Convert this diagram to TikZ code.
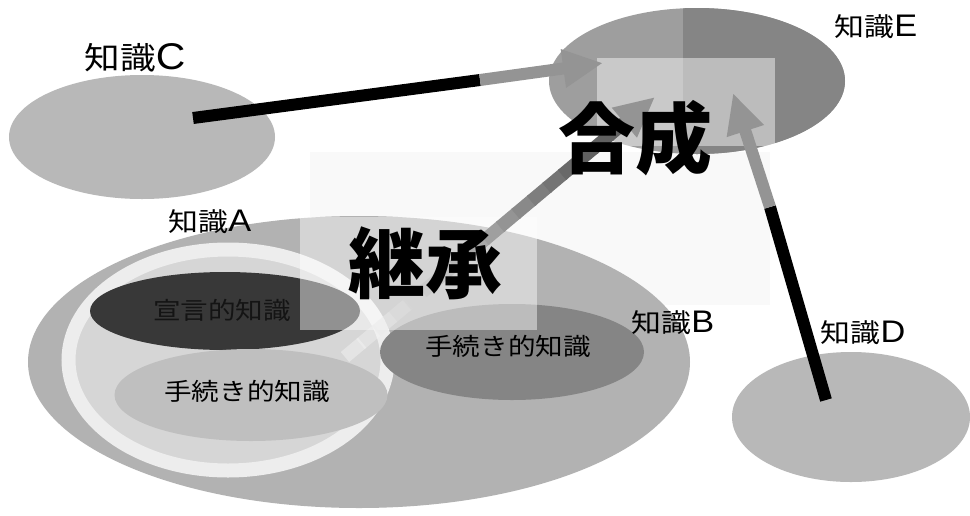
\documentclass[tikz,border=0pt]{standalone}
\usepackage{fontspec}
\newfontfamily\jp{Noto Sans CJK JP}[FakeStretch=1.15]
\newfontfamily\jpbig{Noto Sans CJK JP}
\newfontfamily\lat{Liberation Sans}[FakeStretch=1.1,Scale=1.2]
\usetikzlibrary{shapes.geometric,arrows.meta,calc}
\definecolor{g15}{gray}{0.08}
\definecolor{g25}{gray}{0.22}
\definecolor{g40}{gray}{0.40}
\definecolor{g50}{gray}{0.52}
\definecolor{g55}{gray}{0.58}
\definecolor{g62}{gray}{0.62}
\definecolor{g70}{gray}{0.70}
\definecolor{g72}{gray}{0.72}
\definecolor{g74}{gray}{0.75}
\definecolor{g84}{gray}{0.84}
\definecolor{g94}{gray}{0.93}
\definecolor{g96}{gray}{0.975}
\begin{document}
\begin{tikzpicture}[x=1pt,y=-1pt,
  ell/.style={ellipse, inner sep=0pt, draw=none},
  panel/.style={inner sep=0pt, anchor=north west, draw=none},
  lbl/.style={inner sep=0pt, font=\jp\fontsize{26}{26}\selectfont},
  body/.style={inner sep=0pt, font=\jp\fontsize{24}{24}\selectfont},
  big/.style={inner sep=0pt, font=\jpbig\bfseries\fontsize{77}{77}\selectfont},
  shaft/.style={line width=12pt, line cap=butt},
  tip/.style={-{Triangle[width=36pt,length=40pt]}}]
\useasboundingbox (0,0) rectangle (970,515);
\fill[white] (0,0) rectangle (970,515);
% light stippled area
\node[panel, fill=g96, minimum width=460pt, minimum height=153pt] (stip) at (310,152) {};
% knowledge C, D, E
\node[ell, fill=g72, minimum width=266pt, minimum height=124pt] (C) at (142,137) {};
\node[ell, fill=g72, minimum width=238pt, minimum height=130pt] (D) at (851,417) {};
\node[ell, fill=g62, minimum width=296pt, minimum height=146pt] (E) at (697,81) {};
\begin{scope}
  \clip (E.center) ellipse [x radius=148pt, y radius=73pt];
  \fill[g50] (683,0) rectangle (850,160);
\end{scope}
\node[panel, fill=white, fill opacity=0.45, minimum width=178pt, minimum height=88pt] (boxE) at (597,58) {};
% knowledge A / B
\node[ell, fill=g70, minimum width=662pt, minimum height=292pt] (B) at (359,362) {};
\node[ell, fill=g84, draw=g94, line width=14pt, minimum width=319pt, minimum height=221pt] (A) at (228,360) {};
\node[ell, fill=g25, minimum width=270pt, minimum height=78pt] (dec) at (225,311) {};
\node[ell, fill=g74, minimum width=273pt, minimum height=92pt] (procA) at (251,395) {};
\node[ell, fill=g50, minimum width=264pt, minimum height=96pt] (procB) at (512,352) {};
\node[panel, fill=white, fill opacity=0.45, minimum width=237pt, minimum height=113pt] (boxA) at (300,217) {};
% arrows C -> E and D -> E
\coordinate (cS) at (193,118);
\coordinate (cM) at (480,80);
\coordinate (cT) at (603,63);
\draw[shaft, black] (cS) -- (cM);
\draw[shaft, g55, tip] (cM) -- (cT);
\coordinate (dS) at (826,400);
\coordinate (dM) at (770,207);
\coordinate (dT) at (733,93);
\draw[shaft, black] (dS) -- (dM);
\draw[shaft, g55, tip] (dM) -- (dT);
% inheritance arrow with fading shaft
\coordinate (aS) at (345,357);
\coordinate (aT) at (655,97);
\foreach \i in {0,...,17}{
  \pgfmathsetmacro{\a}{\i/20}
  \pgfmathsetmacro{\b}{(\i+1)/20+0.005}
  \pgfmathsetmacro{\p}{min(62,\i*4.2)}
  \pgfmathsetmacro{\o}{min(1,0.35+\i*0.08)}
  \draw[line width=13pt, line cap=butt, black!\p!white, draw opacity=\o] ($(aS)!\a!(aT)$) -- ($(aS)!\b!(aT)$);
}
\coordinate (aM) at ($(aS)!0.9!(aT)$);
\draw[line width=13pt, g55, tip] (aM) -- (aT);
% labels
\node[lbl, font=\jp\fontsize{31}{31}\selectfont] (lC) at (135,58) {知識{\lat C}};
\node[lbl] (lE) at (876,27) {知識{\lat E}};
\node[lbl] (lA) at (210,222) {知識{\lat A}};
\node[lbl] (lB) at (673,323) {知識{\lat B}};
\node[lbl] (lD) at (863,333) {知識{\lat D}};
\node[body] (tdec) at (222,310) {\color{g15}宣言的知識};
\node[body] (tprocA) at (247,391) {手続き的知識};
\node[body] (tprocB) at (508,346) {手続き的知識};
\node[big] (inherit) at (425,263) {継承};
\node[big] (synth) at (635,138) {合成};
\end{tikzpicture}
\end{document}
